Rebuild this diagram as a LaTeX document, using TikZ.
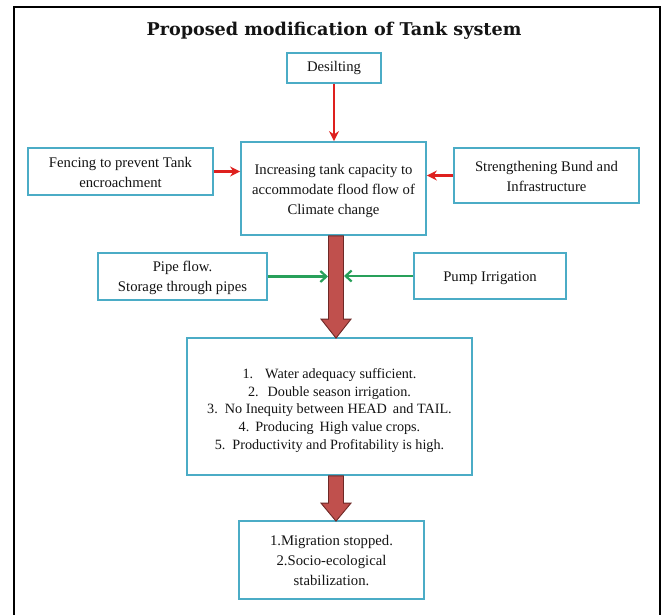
\documentclass[tikz,border=0pt]{standalone}
\usepackage{fontspec}
\setmainfont{Liberation Serif}
\newfontfamily\titlefont{DejaVu Serif}
\usetikzlibrary{arrows.meta,calc}
\definecolor{boxblue}{RGB}{75,172,198}
\definecolor{textc}{RGB}{20,20,20}
\definecolor{arrred}{RGB}{222,32,30}
\definecolor{arrgreen}{RGB}{40,160,90}
\definecolor{bigfill}{RGB}{192,80,77}
\definecolor{bigline}{RGB}{110,40,38}
\tikzset{
  box/.style={draw=boxblue, line width=1.8pt, inner sep=0pt, align=center, text=textc,
    font=\fontsize{14.7}{20}\selectfont},
  redarr/.style={draw=arrred, line width=2.4pt, -{Stealth[length=10pt,width=10pt]}},
  greenarr/.style={draw=arrgreen, line width=2.2pt, -{Straight Barb[length=6pt,width=11pt]}},
  bigarrow/.style={fill=bigfill, draw=bigline, line width=0.9pt, line join=miter},
}
\begin{document}
\begin{tikzpicture}[x=1pt,y=-1pt]
\useasboundingbox (0,0) rectangle (662,614);
\fill[white] (0,0) rectangle (662,614);
\draw[line width=2.2pt, black] (14,616) -- (14,7) -- (660,7) -- (660,616);

\node[font=\titlefont\bfseries\fontsize{17.6}{20}\selectfont, text=textc] (title) at (334,31) {Proposed modification of Tank system};

\node[box, minimum width=94pt, minimum height=30pt] (desil) at (334,68) {Desilting};
\node[box, minimum width=185pt, minimum height=93pt] (central) at (333.5,188.5)
  {\rule{0pt}{15pt}Increasing tank capacity to\\ accommodate flood flow of\\ Climate change};
\node[box, minimum width=185pt, minimum height=47pt] (fence) at (120.5,171.5)
  {\rule{0pt}{13pt}Fencing to prevent Tank\\ encroachment};
\node[box, minimum width=185pt, minimum height=55pt] (bund) at (546.5,175.5)
  {\rule{0pt}{13pt}Strengthening Bund and\\ Infrastructure};
\node[box, minimum width=169pt, minimum height=47pt] (pipe) at (182.5,276.5)
  {\rule{0pt}{14pt}Pipe flow.\\ Storage through pipes};
\node[box, minimum width=152pt, minimum height=46pt] (pump) at (490,276)
  {\rule{0pt}{14pt}Pump Irrigation};
\node[box, minimum width=285pt, minimum height=137pt,
      font=\fontsize{14.2}{17.6}\selectfont] (results) at (329.5,406.5)
  {\rule{0pt}{18pt}1.\hspace{12pt}Water adequacy sufficient.\\
   2.\hspace{9pt}Double season irrigation.\\
   3.\hspace{7pt}No Inequity between HEAD\hspace{6pt}and TAIL.\\
   4.\hspace{6pt}Producing\hspace{6pt}High value crops.\\
   5.\hspace{7pt}Productivity and Profitability is high.};
\node[box, minimum width=185pt, minimum height=78pt] (final) at (331.5,560)
  {1.Migration stopped.\\ 2.Socio-ecological\\ stabilization.};

% thin arrows
\draw[redarr] (desil.south) -- (desil.south |- central.north);
\draw[redarr] (fence.east) -- (fence.east -| central.west);
\draw[redarr] (bund.west) -- (bund.west -| central.east);

% thick arrows
\coordinate (axis) at (336,0);
\coordinate (shaftL) at (328,0);
\coordinate (shaftR) at (344,0);
\path[bigarrow] let \p1=(axis |- central.south), \p2=(axis |- results.north) in
  (\x1-7.5pt,\y1) -- (\x1-7.5pt,\y2+18pt) -- (\x1-15pt,\y2+18pt) -- (\x1,\y2-1pt)
  -- (\x1+15pt,\y2+18pt) -- (\x1+7.5pt,\y2+18pt) -- (\x1+7.5pt,\y1) -- cycle;
\path[bigarrow] let \p1=(axis |- results.south), \p2=(axis |- final.north) in
  (\x1-7.5pt,\y1) -- (\x1-7.5pt,\y2+17pt) -- (\x1-15pt,\y2+17pt) -- (\x1,\y2-1pt)
  -- (\x1+15pt,\y2+17pt) -- (\x1+7.5pt,\y2+17pt) -- (\x1+7.5pt,\y1) -- cycle;

% green arrows
\draw[greenarr] (pipe.east) -- (pipe.east -| shaftL);
\draw[greenarr] (pump.west) -- (pump.west -| shaftR);
\end{tikzpicture}
\end{document}
